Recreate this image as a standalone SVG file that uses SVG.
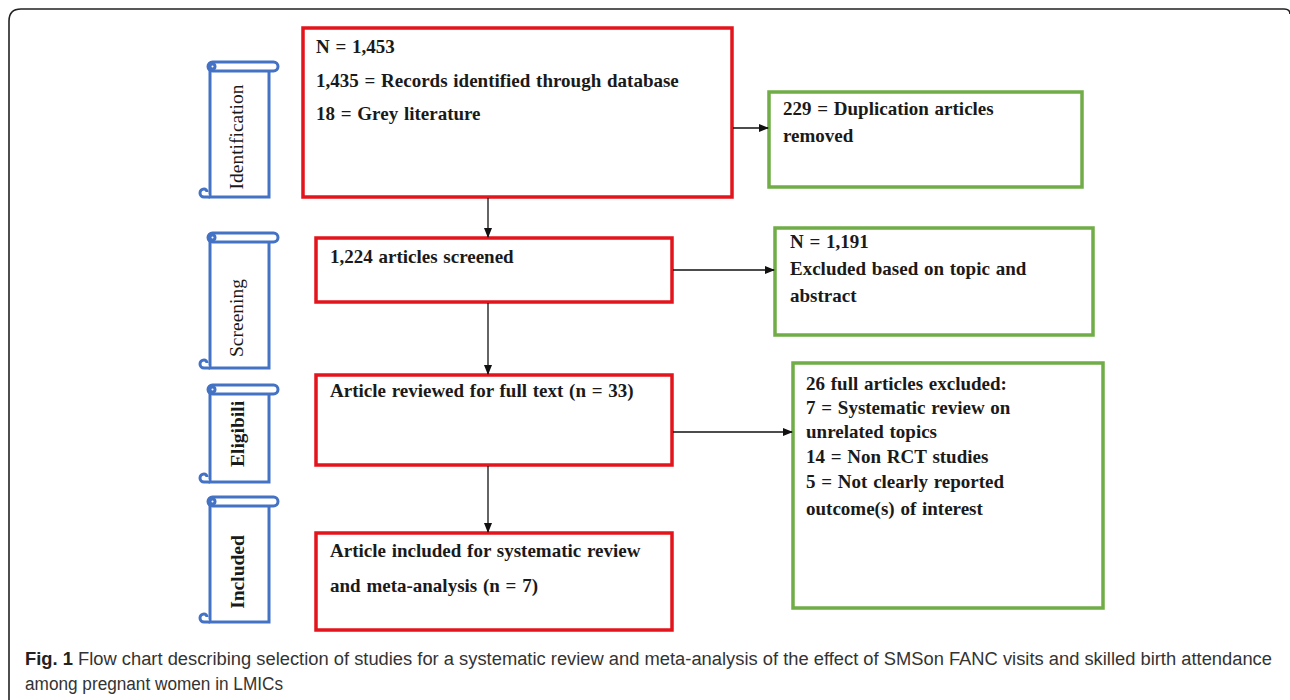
<svg xmlns="http://www.w3.org/2000/svg" width="1290" height="700" viewBox="0 0 1290 700">
<style>
.bx{font-family:"Liberation Serif","Times New Roman",serif;font-weight:bold;font-size:19px;word-spacing:1px;fill:#1a1a1a}
.red{fill:#fff;stroke:#e3141b;stroke-width:3.5}
.grn{fill:#fff;stroke:#70ad47;stroke-width:3.5}
.scr{fill:#fff;stroke:#4472c4;stroke-width:3}
.lbl{font-family:"Liberation Serif","Times New Roman",serif;font-size:19.5px;fill:#1a1a1a;text-anchor:middle}
.con{stroke:#111;stroke-width:1.3;fill:none;marker-end:url(#ah)}
.cap{font-family:"Liberation Sans",Arial,sans-serif;font-size:18px;fill:#333}
</style>
<defs>
<marker id="ah" markerWidth="10" markerHeight="8" refX="9" refY="4" orient="auto" markerUnits="userSpaceOnUse">
<path d="M0,0 L10,4 L0,8 Z" fill="#111"/>
</marker>
</defs>
<rect width="1290" height="700" fill="#fff"/>
<path d="M9 700 V21 Q9 9 21 9 H1284 Q1290 9 1290 14" fill="none" stroke="#222" stroke-width="1.6"/>

<g id="scroll-identification">
<rect class="scr" x="210" y="66" width="59" height="131"/>
<rect class="scr" x="208" y="62" width="70" height="9" rx="4.5"/>
<circle class="scr" cx="212.5" cy="66.5" r="2.5"/>
<path class="scr" d="M210 197 H204 a4 4 0 0 1 0 -8 a3 3 0 0 1 3 3" />
<text class="lbl" transform="translate(243 137) rotate(-90)">Identification</text>
</g>
<g id="scroll-screening">
<rect class="scr" x="210" y="237" width="59" height="131"/>
<rect class="scr" x="208" y="233" width="70" height="9" rx="4.5"/>
<circle class="scr" cx="212.5" cy="237.5" r="2.5"/>
<path class="scr" d="M210 368 H204 a4 4 0 0 1 0 -8 a3 3 0 0 1 3 3" />
<text class="lbl" transform="translate(243 318) rotate(-90)">Screening</text>
</g>
<g id="scroll-eligibili">
<rect class="scr" x="210" y="389" width="59" height="93"/>
<rect class="scr" x="208" y="385" width="70" height="9" rx="4.5"/>
<circle class="scr" cx="212.5" cy="389.5" r="2.5"/>
<path class="scr" d="M210 482 H204 a4 4 0 0 1 0 -8 a3 3 0 0 1 3 3" />
<text class="lbl" font-weight="bold" transform="translate(244 434) rotate(-90)">Eligibili</text>
</g>
<g id="scroll-included">
<rect class="scr" x="210" y="501" width="59" height="121"/>
<rect class="scr" x="208" y="497" width="70" height="9" rx="4.5"/>
<circle class="scr" cx="212.5" cy="501.5" r="2.5"/>
<path class="scr" d="M210 622 H204 a4 4 0 0 1 0 -8 a3 3 0 0 1 3 3" />
<text class="lbl" font-weight="bold" transform="translate(244 572) rotate(-90)">Included</text>
</g>

<g id="box-identified">
<rect class="red" x="303" y="28" width="429" height="169"/>
<text class="bx" x="316" y="53">N = 1,453</text>
<text class="bx" x="316" y="87">1,435 = Records identified through database</text>
<text class="bx" x="316" y="120">18 = Grey literature</text>
</g>
<g id="box-duplicates">
<rect class="grn" x="769" y="92" width="313" height="95"/>
<text class="bx" x="783" y="115">229 = Duplication articles</text>
<text class="bx" x="783" y="142">removed</text>
</g>
<g id="box-screened">
<rect class="red" x="316" y="238" width="356" height="64"/>
<text class="bx" x="330" y="263">1,224 articles screened</text>
</g>
<g id="box-excluded-topic">
<rect class="grn" x="775" y="228" width="318" height="107"/>
<text class="bx" x="790" y="248">N = 1,191</text>
<text class="bx" x="790" y="275">Excluded based on topic and</text>
<text class="bx" x="790" y="302">abstract</text>
</g>
<g id="box-fulltext">
<rect class="red" x="316" y="375" width="356" height="90"/>
<text class="bx" x="330" y="397">Article reviewed for full text (n = 33)</text>
</g>
<g id="box-excluded-full">
<rect class="grn" x="793" y="363" width="310" height="245"/>
<text class="bx" x="806" y="390">26 full articles excluded:</text>
<text class="bx" x="806" y="414">7 = Systematic review on</text>
<text class="bx" x="806" y="438">unrelated topics</text>
<text class="bx" x="806" y="463">14 = Non RCT studies</text>
<text class="bx" x="806" y="488">5 = Not clearly reported</text>
<text class="bx" x="806" y="515">outcome(s) of interest</text>
</g>
<g id="box-included">
<rect class="red" x="316" y="533" width="356" height="97"/>
<text class="bx" x="330" y="557">Article included for systematic review</text>
<text class="bx" x="330" y="592">and meta-analysis (n = 7)</text>
</g>

<g id="connectors">
<line class="con" x1="733" y1="128" x2="768" y2="128"/>
<line class="con" x1="488" y1="198" x2="488" y2="237"/>
<line class="con" x1="673" y1="270" x2="774" y2="270"/>
<line class="con" x1="488" y1="303" x2="488" y2="374"/>
<line class="con" x1="673" y1="432" x2="792" y2="432"/>
<line class="con" x1="488" y1="466" x2="488" y2="532"/>
</g>

<g id="caption">
<text class="cap" x="25" y="665" textLength="1247" lengthAdjust="spacingAndGlyphs"><tspan font-weight="bold" fill="#222">Fig. 1</tspan> Flow chart describing selection of studies for a systematic review and meta-analysis of the effect of SMSon FANC visits and skilled birth attendance</text>
<text class="cap" x="25" y="690" textLength="258" lengthAdjust="spacingAndGlyphs">among pregnant women in LMICs</text>
</g>
</svg>
